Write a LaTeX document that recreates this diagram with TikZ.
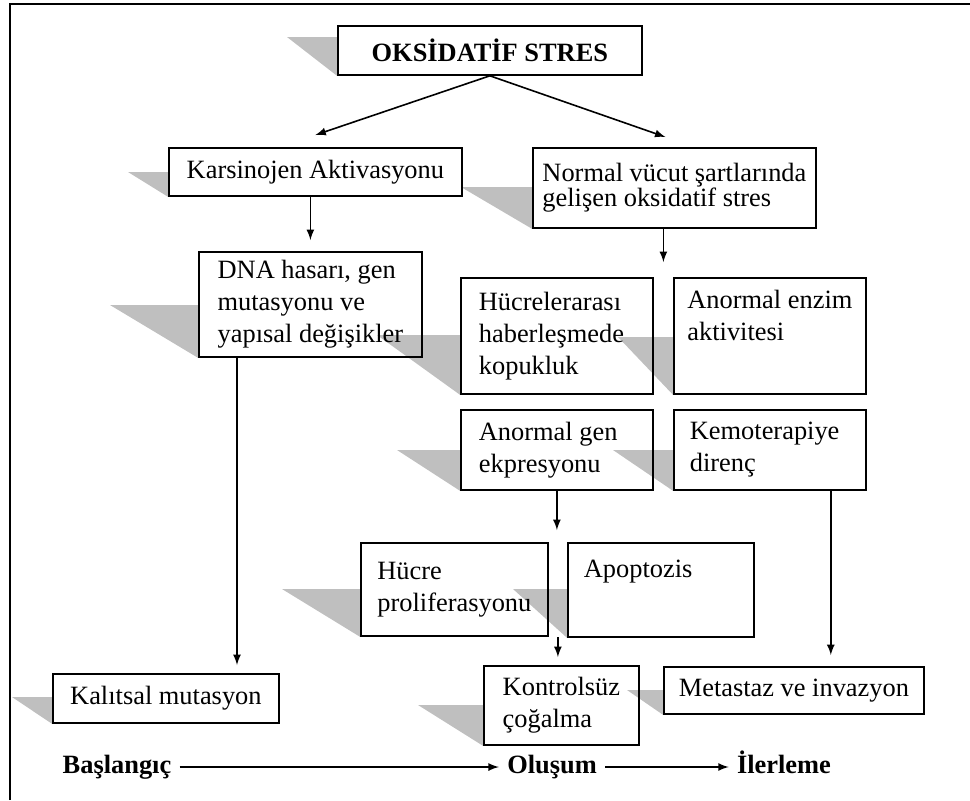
\documentclass[tikz,border=0pt]{standalone}
\usepackage{fontspec}
\setmainfont{Liberation Serif}
\usetikzlibrary{calc,backgrounds}

\tikzstyle{stage} = [rectangle, draw, line width=0.9pt, align=flush left, anchor=north west,
inner xsep=0pt, inner ysep=0pt, font=\fontsize{13.2}{16}\selectfont]
\tikzstyle{title} = [stage, align=center, font=\fontsize{13.2}{16}\selectfont\bfseries]
\tikzstyle{phase} = [inner xsep=4pt, text height=9pt, text depth=3pt, font=\fontsize{13.2}{16}\selectfont\bfseries]
\tikzstyle{castshadow} = [fill=black!25]
\tikzstyle{arrow} = [thick,->,>=latex,draw]

\begin{document}
\begin{tikzpicture}[x=0.5pt,y=-0.5pt]
\useasboundingbox (0,0) rectangle (970,800);

% frame
\draw[line width=1.2pt] (10,800) -- (10,4) -- (970,4);

% Top
\node[title, minimum width=152pt, minimum height=24.5pt](oks) at (337,25) {OKSİDATİF STRES};
\node[stage, minimum width=146.5pt, minimum height=24pt](kars) at (168,147) {Karsinojen Aktivasyonu};
\node[stage, minimum width=141.5pt, minimum height=40pt, font=\fontsize{13.2}{12.5}\selectfont](normal) at (532,147) {Normal vücut şartlarında\\gelişen oksidatif stres};

% Left branch
\node[stage, minimum width=111.5pt, minimum height=52.5pt](dna) at (198,251) {DNA hasarı, gen\\mutasyonu ve\\yapısal değişikler};
\node[stage, minimum width=113pt, minimum height=24.5pt](kalitsal) at (52,673) {Kalıtsal mutasyon};

% Right branch
\node[stage, minimum width=96pt, minimum height=58pt, text width=78pt](hucre) at (460,277) {Hücrelerarası\\haberleşmede\\kopukluk};
\node[stage, minimum width=96pt, minimum height=58pt](enzim) at (673,277) {Anormal enzim\\aktivitesi\\\strut};
\node[stage, minimum width=96pt, minimum height=40pt, text width=78pt](gen) at (460,409) {Anormal gen\\ekpresyonu};
\node[stage, minimum width=96pt, minimum height=40pt, text width=80pt](kemo) at (673,409) {Kemoterapiye\\direnç};
\node[stage, minimum width=93.5pt, minimum height=46.5pt](prolif) at (360,542) {Hücre\\proliferasyonu};
\node[stage, minimum width=93pt, minimum height=47pt, text width=77pt](apop) at (567,542) {Apoptozis\\\strut};
\node[stage, minimum width=77.5pt, minimum height=39.5pt](kontrol) at (483,665) {Kontrolsüz\\çoğalma};
\node[stage, minimum width=130pt, minimum height=23.5pt](metastaz) at (663,666) {Metastaz ve invazyon};

% Time line
\node[phase](basla) at (117,767) {Başlangıç};
\node[phase](olusum) at (552,767) {Oluşum};
\node[phase](ilerle) at (784,767) {İlerleme};

% Shadows behind the boxes
\begin{pgfonlayer}{background}
\foreach \n/\dx/\dy in {oks/50/12, kars/40/25, normal/71/40, dna/88/54, hucre/83/58,
  enzim/55/60, gen/63/41, kemo/60/41, prolif/78/47, apop/54/47, kalitsal/40/24,
  kontrol/65/40, metastaz/36/24}
  \fill[castshadow] (\n.south west) -- ([shift={(0,\dy)}]\n.north west) -- ++(-\dx,0) -- cycle;
\end{pgfonlayer}

% Arrows
\coordinate (split) at ($(hucre.north east)!0.5!(enzim.north west)$);
\coordinate (split2) at ($(prolif.north east)!0.5!(apop.north west)$);
\coordinate (split3) at ($(prolif.south east)!0.5!(apop.south west)$);
\coordinate (dnafoot) at ([xshift=19.5pt]dna.south west);
\coordinate (kemofoot) at ([xshift=-18pt]kemo.south east);

\path[arrow] (oks.south) -- ([yshift=6pt]kars.north);
\path[arrow] (oks.south) -- ([xshift=-4.5pt,yshift=5pt]normal.north);
\path[arrow] (kars.south -| dna.north) -- ([yshift=5.5pt]dna.north);
\path[arrow] (normal.south -| split) -- ([yshift=7.5pt]split);
\path[arrow,shorten >=4pt] (dnafoot) -- (dnafoot |- kalitsal.north);
\path[arrow,shorten >=6pt] (gen.south) -- (gen.south |- split2);
\path[arrow,shorten >=4pt] (split3) -- (split3 |- kontrol.north);
\path[arrow,shorten >=5.5pt] (kemofoot) -- (kemofoot |- metastaz.north);
\path[arrow] (basla) -- (olusum);
\path[arrow] (olusum) -- (ilerle);
\end{tikzpicture}
\end{document}
